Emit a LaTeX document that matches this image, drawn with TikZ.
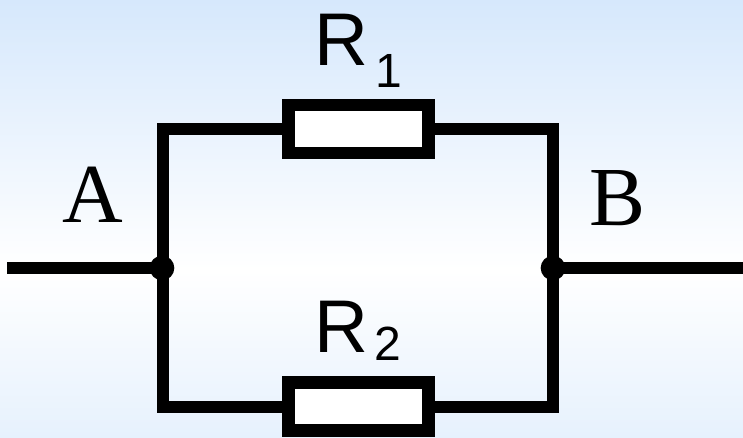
\documentclass[tikz,border=0pt]{standalone}
\usepackage{fontspec}
\setmainfont{Liberation Serif}
\newfontfamily\rfont{Liberation Sans}
\definecolor{bgtop}{HTML}{D6E8FC}
\definecolor{bgmid}{HTML}{FFFFFF}
\definecolor{bgbot}{HTML}{E6F1FD}
\definecolor{ink}{HTML}{000000}
\tikzset{
  px/.style={x=0.75pt,y=-0.75pt},
  wire/.style={line width=9pt,color=ink},
  res/.style={draw=ink,line width=9.4pt,fill=white,minimum width=105pt,minimum height=36pt,inner sep=0pt,outer sep=0pt},
  jn/.style={circle,fill=ink,minimum size=18.5pt,inner sep=0pt},
  lab/.style={font=\rfont\fontsize{56pt}{56pt}\selectfont,text=ink,inner sep=0pt,anchor=base west},
  subs/.style={font=\rfont\fontsize{36pt}{36pt}\selectfont,text=ink,inner sep=0pt,anchor=base west},
  big/.style={font=\fontsize{63pt}{63pt}\selectfont,text=ink,inner sep=0pt,anchor=base}
}
\begin{document}
\begin{tikzpicture}[px]
\useasboundingbox (0,0) rectangle (743,438);
\shade[top color=bgtop,bottom color=bgmid] (0,0) rectangle (743,270);
\shade[top color=bgmid,bottom color=bgbot] (0,270) rectangle (743,438);
\coordinate (L) at (7,268);
\coordinate (Rr) at (743,268);
\node[jn] (ja) at (162,268) {};
\node[jn] (jb) at (553,268) {};
\coordinate (tl) at (163,129);
\coordinate (tr) at (553,129);
\coordinate (bl) at (163,407);
\coordinate (br) at (553,407);
\draw[wire] (L) -- (ja.center);
\draw[wire] (jb.center) -- (Rr);
\draw[wire,line join=miter] (359,129) -- (tl) -- (bl) -- (359,407);
\draw[wire,line join=miter] (359,129) -- (tr) -- (br) -- (359,407);
\node[res] (r1) at (358.5,129) {};
\node[res] (r2) at (358.5,406.5) {};
\node[lab] (t1) at (314,66) {R};
\node[subs] (s1) at (375,88) {1};
\node[lab] (t2) at (314,353) {R};
\node[subs] (s2) at (374,361) {2};
\node[big] (a) at (93,223) {A};
\node[big] (b) at (617.5,226) {B};
\end{tikzpicture}
\end{document}
